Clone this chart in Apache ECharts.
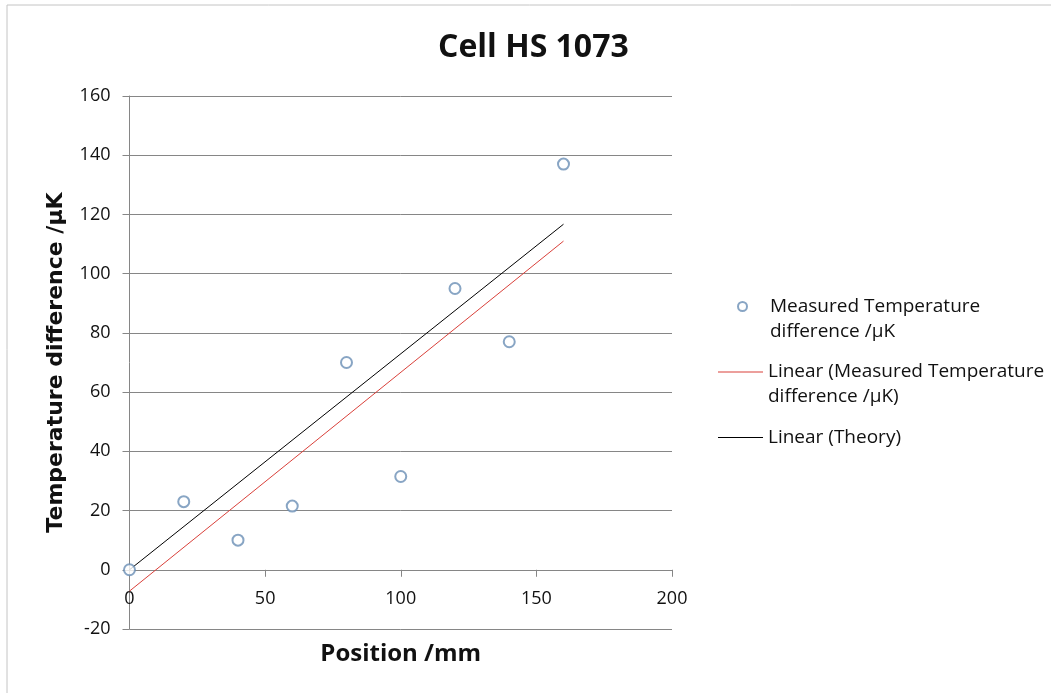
<!DOCTYPE html>
<html>
<head>
<meta charset="utf-8">
<script src="https://cdn.jsdelivr.net/npm/echarts@6/dist/echarts.min.js"></script>
<style>
html,body{margin:0;padding:0;background:#fff;}
#chart{width:1051px;height:693px;}
</style>
</head>
<body>
<div id="chart"></div>
<script>
// ---- data ----
const titleText = 'Cell HS 1073';
const xAxisName = 'Position /mm';
const yAxisName = 'Temperature difference /µK';
const seriesNames = [
  'Measured Temperature difference /µK',
  'Linear (Measured Temperature difference /µK)',
  'Linear (Theory)'
];
const legendLabels = [
  '\nMeasured Temperature\ndifference /µK',
  '\nLinear (Measured Temperature\ndifference /µK)',
  'Linear (Theory)'
];
const positions = [0, 20, 40, 60, 80, 100, 120, 140, 160];
const measured = [0, 23, 10, 21.5, 70, 31.5, 95, 77, 137];
const trendX = [0, 160];
const trendY = [-7.2, 111];
const theoryX = [0, 160];
const theoryY = [0, 116.7];
const xTicks = { min: 0, max: 200, interval: 50 };
const yTicks = { min: -20, max: 160, interval: 20 };

const pair = (xs, ys) => xs.map((x, i) => [x, ys[i]]);

const FONT = 'Open Sans';
const RED = '#d9403a';
const chart = echarts.init(document.getElementById('chart'), null, { renderer: 'canvas' });

const legendBase = {
  orient: 'vertical',
  left: 718,
  itemWidth: 45,
  itemHeight: 1,
  padding: 0,
  itemGap: 0,
  textStyle: { fontFamily: FONT, fontSize: 19, color: '#111', lineHeight: 25 },
  formatter: name => legendLabels[seriesNames.indexOf(name)],
  selectedMode: false
};

chart.setOption({
  animation: false,
  backgroundColor: '#fff',
  graphic: [{
    type: 'rect',
    shape: { x: 7, y: 5, width: 1100, height: 800 },
    style: { fill: 'none', stroke: '#c4c4c4', lineWidth: 1 },
    silent: true
  }],
  title: {
    text: titleText,
    left: 438,
    top: 32,
    padding: 0,
    textStyle: { fontFamily: FONT, fontSize: 32, fontWeight: 'bold', color: '#111' }
  },
  legend: [
    Object.assign({}, legendBase, {
      left: 737,
      top: 269,
      itemHeight: 9,
      data: [{ name: seriesNames[0], icon: 'emptyCircle' }]
    }),
    Object.assign({}, legendBase, {
      top: 334.5,
      data: [{ name: seriesNames[1], icon: 'rect' }]
    }),
    Object.assign({}, legendBase, {
      top: 425,
      data: [{ name: seriesNames[2], icon: 'rect' }]
    })
  ],
  grid: {
    left: 129.5, right: 379, top: 96, bottom: 64,
    containLabel: false,
    outerBoundsMode: 'none'
  },
  xAxis: {
    type: 'value',
    min: xTicks.min, max: xTicks.max, interval: xTicks.interval,
    name: xAxisName,
    nameLocation: 'middle',
    nameGap: 13,
    nameMoveOverlap: false,
    nameTextStyle: { fontFamily: FONT, fontSize: 24, fontWeight: 'bold', color: '#111' },
    axisLine: { show: true, onZero: true, lineStyle: { color: '#868686', width: 1 } },
    axisTick: { show: true, length: 7, lineStyle: { color: '#868686' } },
    axisLabel: { fontFamily: FONT, fontSize: 18, color: '#111', margin: -39 },
    splitLine: { show: false }
  },
  yAxis: {
    type: 'value',
    min: yTicks.min, max: yTicks.max, interval: yTicks.interval,
    name: yAxisName,
    nameLocation: 'middle',
    nameGap: 62,
    nameMoveOverlap: false,
    nameTextStyle: { fontFamily: 'DejaVu Sans', fontSize: 22, fontWeight: 'bold', color: '#111' },
    axisLine: { show: true, onZero: false, lineStyle: { color: '#868686', width: 1 } },
    axisTick: { show: true, length: 7, lineStyle: { color: '#868686' } },
    axisLabel: { fontFamily: FONT, fontSize: 18, color: '#111', margin: 19 },
    splitLine: { show: true, lineStyle: { color: '#868686', width: 1 } }
  },
  series: [
    {
      name: seriesNames[0],
      type: 'scatter',
      data: pair(positions, measured),
      symbol: 'emptyCircle',
      symbolSize: 11,
      itemStyle: { color: '#6a8fb5', borderColor: '#6a8fb5', borderWidth: 1 },
      z: 5
    },
    {
      name: seriesNames[1],
      type: 'line',
      data: pair(trendX, trendY),
      symbol: 'none',
      lineStyle: { color: RED, width: 1 },
      itemStyle: { color: RED },
      z: 3
    },
    {
      name: seriesNames[2],
      type: 'line',
      data: pair(theoryX, theoryY),
      symbol: 'none',
      lineStyle: { color: '#000', width: 1 },
      itemStyle: { color: '#000' },
      z: 4
    }
  ]
});
</script>
</body>
</html>
